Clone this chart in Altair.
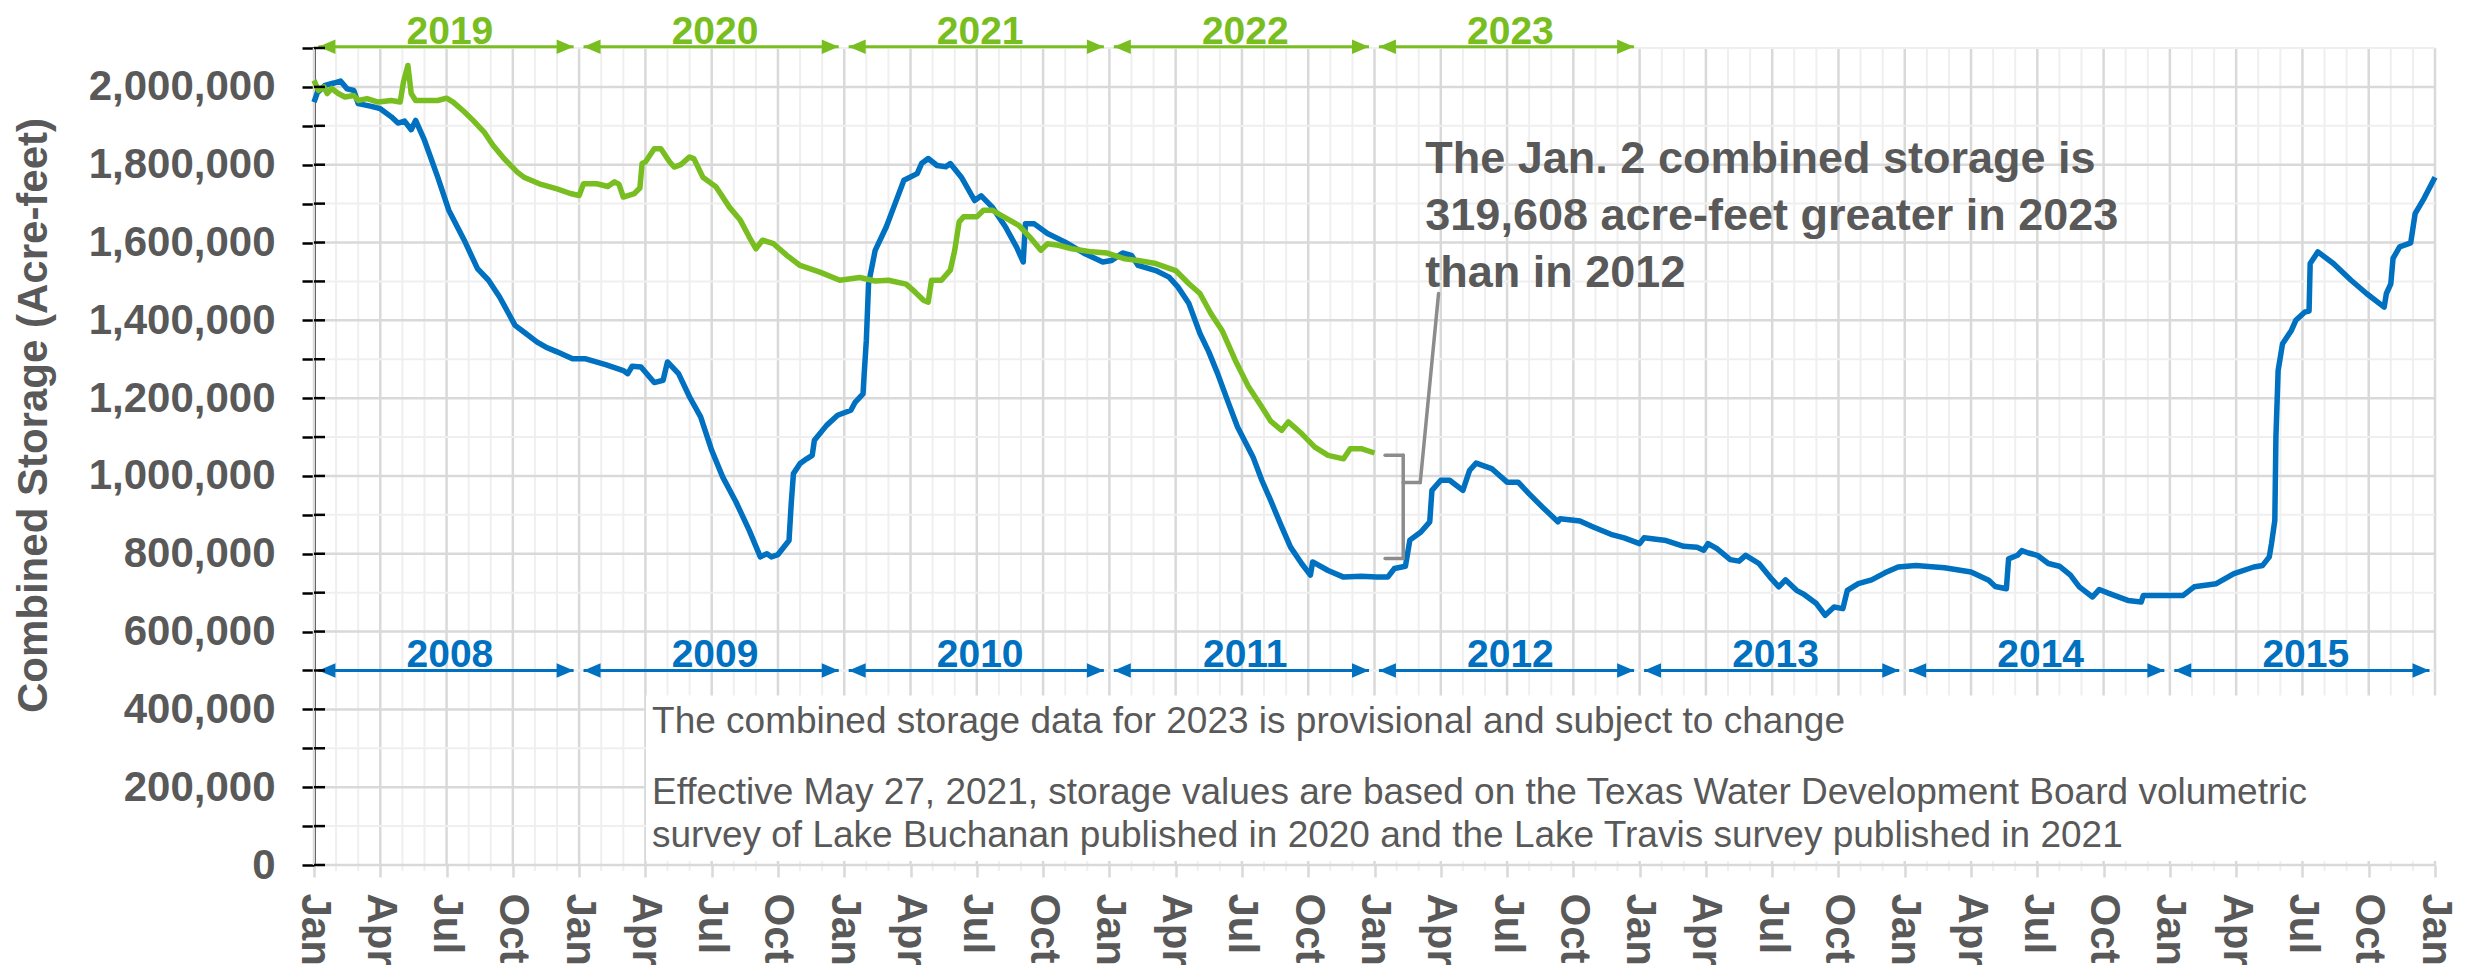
import altair as alt
import pandas as pd

# ---------------- data (x = months since Jan 1 of first year, y = acre-feet) ----------------
blue_month = [0.0, 0.15, 0.5, 0.9, 1.2, 1.5, 1.8, 2.0, 2.6, 3.0, 3.5, 3.8, 4.1, 4.4, 4.6, 5.0, 5.6, 6.1,
              6.8, 7.4, 7.9, 8.4, 9.1, 9.5, 10.1, 10.5, 11.0, 11.7, 12.3, 13.2, 14.0, 14.2, 14.4, 14.8,
              15.4, 15.8, 16.0, 16.5, 17.0, 17.5, 18.0, 18.5, 19.1, 19.7, 20.2, 20.5, 20.7, 21.0, 21.5,
              21.6, 21.7, 22.0, 22.3, 22.55, 22.65, 23.2, 23.7, 24.3, 24.5, 24.85, 24.9, 25.0, 25.1, 25.4,
              25.9, 26.3, 26.7, 27.3, 27.5, 27.8, 28.2, 28.6, 28.8, 29.3, 29.9, 30.2, 30.7, 31.3, 31.8,
              32.1, 32.2, 32.6, 33.2, 34.0, 34.9, 35.7, 36.1, 36.6, 37.0, 37.3, 38.1, 38.7, 39.1, 39.6,
              40.1, 40.5, 40.9, 41.4, 41.8, 42.5, 42.9, 43.3, 43.8, 44.2, 44.7, 45.1, 45.2, 45.9, 46.6,
              47.4, 48.1, 48.6, 48.9, 49.4, 49.6, 50.1, 50.5, 50.6, 51.0, 51.4, 52.0, 52.3, 52.6, 53.3,
              54.0, 54.5, 55.0, 55.6, 56.3, 56.4, 57.3, 57.9, 58.7, 59.3, 60.0, 60.2, 61.2, 62.0, 62.6,
              62.9, 63.1, 63.5, 64.1, 64.5, 64.8, 65.4, 65.9, 66.3, 66.6, 67.1, 67.4, 68.0, 68.4, 68.8,
              69.2, 69.4, 69.9, 70.5, 71.1, 71.7, 72.5, 73.8, 75.0, 75.8, 76.1, 76.6, 76.7, 77.1, 77.3,
              77.6, 78.0, 78.5, 79.0, 79.5, 79.9, 80.5, 80.8, 81.3, 82.1, 82.7, 82.8, 84.6, 85.1, 86.1,
              86.9, 87.8, 88.2, 88.5, 88.6, 88.75, 88.8, 88.9, 89.1, 89.5, 89.7, 90.1, 90.3, 90.35, 90.7,
              91.4, 92.2, 92.9, 93.7, 93.8, 94.0, 94.1, 94.4, 94.9, 95.1, 95.5, 96.0]
blue_value = [1961, 1985, 2004, 2010, 2015, 1995, 1991, 1957, 1950, 1944, 1923, 1907, 1912, 1890, 1914,
              1863, 1768, 1683, 1606, 1533, 1503, 1460, 1387, 1370, 1344, 1331, 1319, 1301, 1301, 1286,
              1271, 1263, 1282, 1280, 1240, 1246, 1293, 1263, 1203, 1152, 1066, 997, 933, 860, 792, 800,
              792, 798, 834, 929, 1006, 1032, 1044, 1053, 1092, 1130, 1156, 1169, 1190, 1211, 1260, 1349,
              1494, 1580, 1640, 1700, 1760, 1777, 1803, 1816, 1798, 1795, 1803, 1768, 1708, 1720, 1691,
              1640, 1588, 1550, 1648, 1648, 1623, 1601, 1571, 1550, 1554, 1573, 1567, 1541, 1528, 1511,
              1486, 1443, 1366, 1319, 1263, 1186, 1126, 1049, 989, 937, 869, 817, 775, 745, 779, 757,
              740, 742, 740, 740, 762, 768, 835, 856, 882, 963, 989, 989, 963, 1014, 1033, 1019, 984, 984,
              954, 920, 882, 890, 884, 869, 850, 841, 826, 841, 834, 819, 817, 809, 826, 813, 785, 781,
              796, 775, 740, 715, 733, 706, 697, 672, 642, 663, 659, 706, 723, 733, 751, 766, 770, 764,
              753, 732, 716, 710, 787, 796, 808, 802, 796, 775, 768, 745, 715, 689, 708, 697, 680, 676,
              693, 693, 715, 723, 749, 766, 770, 792, 826, 886, 1100, 1271, 1340, 1374, 1400, 1421, 1424,
              1546, 1576, 1546, 1503, 1469, 1434, 1469, 1494, 1559, 1589, 1599, 1674, 1713, 1768]

green_month = [0.0, 0.2, 0.45, 0.6, 0.8, 1.1, 1.4, 1.8, 2.0, 2.4, 2.9, 3.5, 3.9, 4.05, 4.25, 4.4, 4.6,
               5.0, 5.6, 6.0, 6.3, 6.8, 7.2, 7.7, 8.1, 8.6, 9.2, 9.5, 10.2, 11.0, 11.6, 12.0, 12.2, 12.8,
               13.3, 13.6, 13.8, 14.0, 14.5, 14.75, 14.85, 15.0, 15.4, 15.7, 16.1, 16.3, 16.6, 17.0, 17.2,
               17.6, 18.2, 18.8, 19.3, 19.7, 20.0, 20.3, 20.8, 21.4, 22.0, 22.9, 23.8, 24.7, 25.4, 26.0,
               26.8, 27.2, 27.6, 27.8, 27.95, 28.4, 28.8, 29.0, 29.2, 29.4, 30.0, 30.3, 30.7, 31.1, 31.9,
               32.4, 32.9, 33.2, 33.7, 34.3, 35.2, 35.9, 36.7, 37.3, 38.1, 39.0, 39.6, 40.1, 40.6, 41.1,
               41.7, 42.3, 42.9, 43.3, 43.8, 44.1, 44.7, 45.3, 45.9, 46.6, 46.9, 47.4, 48.0]
green_value = [2017, 1991, 2000, 1983, 1996, 1983, 1974, 1978, 1965, 1970, 1961, 1965, 1961, 2013, 2055,
               1983, 1965, 1965, 1965, 1971, 1961, 1936, 1914, 1884, 1850, 1816, 1781, 1768, 1751, 1738,
               1726, 1721, 1751, 1751, 1744, 1756, 1750, 1717, 1726, 1740, 1803, 1807, 1841, 1841, 1807,
               1794, 1800, 1820, 1815, 1768, 1743, 1691, 1657, 1614, 1584, 1606, 1597, 1567, 1541, 1524,
               1503, 1510, 1501, 1503, 1493, 1473, 1451, 1447, 1503, 1503, 1529, 1580, 1653, 1666, 1666,
               1683, 1683, 1670, 1644, 1614, 1580, 1597, 1593, 1584, 1576, 1573, 1558, 1554, 1546, 1528,
               1494, 1469, 1417, 1374, 1297, 1229, 1177, 1141, 1117, 1139, 1109, 1074, 1053, 1044, 1070,
               1070, 1059]

blue_years = ["2008", "2009", "2010", "2011", "2012", "2013", "2014", "2015"]
green_years = ["2019", "2020", "2021", "2022", "2023"]
quarter_labels = ["Jan", "Apr", "Jul", "Oct"]

annotation_lines = ["The Jan. 2 combined storage is",
                    "319,608 acre-feet greater in 2023",
                    "than in 2012"]
note_lines = ["The combined storage data for 2023 is provisional and subject to change",
              "Effective May 27, 2021, storage values are based on the Texas Water Development Board volumetric",
              "survey of Lake Buchanan published in 2020 and the Lake Travis survey published in 2021"]

# ---------------- styling ----------------
BLUE = "#0070C0"
GREEN = "#78BE20"
TXT = "#595959"
FONT = "Liberation Sans"
W, H = 2121, 817
N_MONTHS = 96
Y_MAX = 2100000

xs = alt.Scale(domain=[0, N_MONTHS], nice=False, zero=False)
ys = alt.Scale(domain=[0, Y_MAX], nice=False)

blue_df = pd.DataFrame({"m": blue_month, "v": [v * 1000 for v in blue_value]})
green_df = pd.DataFrame({"m": green_month, "v": [v * 1000 for v in green_value]})

months = list(range(0, N_MONTHS + 1))
grid_minor_x = pd.DataFrame({"m": [m for m in months if m % 3 != 0]})
grid_major_x = pd.DataFrame({"m": [m for m in months if m % 3 == 0]})
yticks = list(range(0, Y_MAX + 1, 100000))
grid_minor_y = pd.DataFrame({"v": [v for v in yticks if v % 200000 != 0]})
grid_major_y = pd.DataFrame({"v": [v for v in yticks if v % 200000 == 0]})
ytick_df = pd.DataFrame({"v": yticks})

label_js = "[" + ",".join("'%s'" % q for q in quarter_labels) + "]"

x_axis = alt.Axis(values=[m for m in months if m % 3 == 0],
                  labelExpr=label_js + "[round(datum.value/3)%4]",
                  labelAngle=90, labelFontSize=42, labelFont=FONT, labelFontWeight="bold",
                  labelColor=TXT, labelPadding=16, labelFlush=False, labelOverlap=False,
                  labelBound=False, labelLimit=400, domain=False, grid=False,
                  ticks=True, tickSize=12, tickColor="#d9d9d9", tickWidth=2.5, title=None)
y_axis = alt.Axis(values=yticks,
                  labelExpr="datum.value % 200000 == 0 ? format(datum.value, ',') : ''",
                  labelFontSize=42, labelFont=FONT, labelFontWeight="bold", labelColor=TXT,
                  labelPadding=27, labelOverlap=False, labelLimit=400,
                  ticks=True, tickSize=12, tickColor="black", tickWidth=2.5,
                  domain=True, domainColor="black", domainWidth=2.5, grid=False,
                  title="Combined Storage (Acre-feet)", titleFontSize=42, titleFont=FONT,
                  titleFontWeight="bold", titleColor=TXT, titleAngle=270, titleX=-268, titleY=367,
                  titleAlign="center", titleBaseline="alphabetic", titleLimit=1000)


def X(field):
    return alt.X(field, type="quantitative", scale=xs, axis=x_axis)


def Y(field):
    return alt.Y(field, type="quantitative", scale=ys, axis=y_axis)


grid_major_v = alt.Chart(grid_major_x).mark_rule(color="#d9d9d9", strokeWidth=2.5).encode(
    x=X("m"), y=alt.value(0), y2=alt.value(H))
grid_minor_v = alt.Chart(grid_minor_x).mark_rule(color="#efefef", strokeWidth=2).encode(
    x=X("m"), y=alt.value(0), y2=alt.value(H + 6))
grid_minor_h = alt.Chart(grid_minor_y).mark_rule(color="#efefef", strokeWidth=2).encode(
    y=Y("v"), x=alt.value(0), x2=alt.value(W))
grid_major_h = alt.Chart(grid_major_y).mark_rule(color="#d9d9d9", strokeWidth=2.5).encode(
    y=Y("v"), x=alt.value(0), x2=alt.value(W))

inner_ticks = alt.Chart(ytick_df).mark_rule(color="black", strokeWidth=2.5).encode(
    y=Y("v"), x=alt.value(0), x2=alt.value(11))

# white note box
box_df = pd.DataFrame({"m1": [15.03], "m2": [96.3], "v1": [10000], "v2": [436000]})
box = alt.Chart(box_df).mark_rect(color="white").encode(
    x=X("m1"), x2="m2:Q", y=Y("v1"), y2="v2:Q")

blue_line = alt.Chart(blue_df).mark_line(color=BLUE, strokeWidth=5.5, strokeJoin="round").encode(
    x=X("m"), y=Y("v"), order="m:Q")
green_line = alt.Chart(green_df).mark_line(color=GREEN, strokeWidth=5.5, strokeJoin="round").encode(
    x=X("m"), y=Y("v"), order="m:Q")

# year span arrows
HEAD = 0.385  # half arrowhead length in months


def arrow_layers(years, yval, color, label_offset):
    rows = []
    for i, yr in enumerate(years):
        s = 12 * i
        rows.append({"yr": yr, "a": s + 0.2, "b": s + 11.75, "c": s + 6.15,
                     "ha": s + 0.2 + HEAD, "hb": s + 11.75 - HEAD, "y": yval,
                     "ty": yval + label_offset})
    df = pd.DataFrame(rows)
    line = alt.Chart(df).mark_rule(color=color, strokeWidth=3).encode(
        x=X("a"), x2="b:Q", y=Y("y"))
    left = alt.Chart(df).mark_point(shape="M-1,0L1,-0.85L1,0.85Z", filled=True, color=color,
                                    size=289, opacity=1, strokeWidth=0).encode(
        x=X("ha"), y=Y("y"))
    right = alt.Chart(df).mark_point(shape="M1,0L-1,-0.85L-1,0.85Z", filled=True, color=color,
                                     size=289, opacity=1, strokeWidth=0).encode(
        x=X("hb"), y=Y("y"))
    txt = alt.Chart(df).mark_text(font=FONT, fontSize=39, fontWeight="bold", color=color,
                                  align="center", baseline="alphabetic").encode(
        x=X("c"), y=Y("ty"), text="yr:N")
    return [line, left, right, txt]


blue_arrows = arrow_layers(blue_years, 500000, BLUE, 10000)
green_arrows = arrow_layers(green_years, 2103000, GREEN, 7800)

# bracket + leader line
top_v = 1053000
bot_v = 788000
nub_v = 983000
bracket_df = pd.DataFrame({
    "m1": [48.48, 49.3, 48.48, 49.3, 50.07],
    "m2": [49.3, 49.3, 49.3, 50.07, 50.9],
    "v1": [top_v, top_v, bot_v, nub_v, nub_v],
    "v2": [top_v, bot_v, bot_v, nub_v, 1469000]})
bracket = alt.Chart(bracket_df).mark_rule(color="#8c8c8c", strokeWidth=3.5, strokeCap="round").encode(
    x=X("m1"), x2="m2:Q", y=Y("v1"), y2="v2:Q")

ann_df = pd.DataFrame({"t": annotation_lines, "m": [50.3] * 3,
                       "v": [1778000, 1631000, 1485000]})
ann = alt.Chart(ann_df).mark_text(font=FONT, fontSize=45, fontWeight="bold", color=TXT,
                                  align="left", baseline="alphabetic").encode(
    x=X("m"), y=Y("v"), text="t:N")

note_df = pd.DataFrame({"t": note_lines, "m": [15.3] * 3, "v": [339300, 156000, 46300]})
notes = alt.Chart(note_df).mark_text(font=FONT, fontSize=37, color=TXT,
                                     align="left", baseline="alphabetic").encode(
    x=X("m"), y=Y("v"), text="t:N")

chart = alt.layer(
    grid_major_v, grid_minor_v, grid_minor_h, grid_major_h, box,
    blue_line, green_line, *blue_arrows, *green_arrows, bracket, ann, notes, inner_ticks
).properties(
    width=W, height=H,
    padding={"left": 306, "top": 40, "right": 28, "bottom": 100},
    autosize=alt.AutoSizeParams(type="none"),
    background="white",
).configure_view(stroke=None).configure(font=FONT)

chart.save("out.html", embed_options={"renderer": "svg", "actions": False})
